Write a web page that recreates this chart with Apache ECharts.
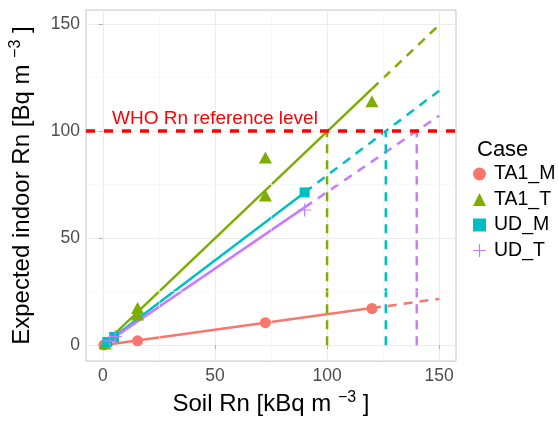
<!DOCTYPE html>
<html>
<head>
<meta charset="utf-8">
<title>Expected indoor Rn</title>
<script src="https://cdn.jsdelivr.net/npm/echarts@6/dist/echarts.min.js"></script>
<style>body{margin:0;background:#fff}#c{width:559px;height:421px}</style>
</head>
<body>
<div id="c"></div>
<script>
// data
var cases = ['TA1_M', 'TA1_T', 'UD_M', 'UD_T'];
var colors = ['#F8766D', '#7CAE00', '#00BFC4', '#C77CFF'];
var ptsTA1M = [[0.5, 0.1], [15.5, 2.0], [72.5, 10.5], [120, 17.1]];
var ptsTA1T = [[1, 0.8], [15.5, 14.3], [15.5, 17.3], [72.5, 69.8], [72.5, 87.6], [120, 113.9]];
var ptsUDM = [[2, 1.5], [5, 3.8], [90, 71.3]];
var ptsUDT = [[3, 2.0], [5.5, 4.0], [90, 63.1]];
// fitted lines: solid over data range, dashed out to 150
var fitStart = [0, 0];
var fitEnd = [[120, 17.3], [120, 119.6], [90, 71.3], [90, 64.3]];
var extEnd = [[150, 21.6], [150, 149.5], [150, 118.8], [150, 107.1]];
var whoLevel = 100;
var whoCross = [100, 126.2, 140]; // TA1_T, UD_M, UD_T reach 100
var majorTicks = [0, 50, 100, 150];
var minorTicks = [25, 75, 125];

var font = 'Liberation Sans';
var plusPath = 'path://M0,4.55H10V5.45H0ZM4.55,0H5.45V10H4.55Z';
var symbols = ['circle', 'triangle', 'rect', plusPath];
var sizes = [11, [13, 12], 10, 13];
var points = [ptsTA1M, ptsTA1T, ptsUDM, ptsUDT];

var chart = echarts.init(document.getElementById('c'));
var series = [];

// minor grid
series.push({
    type: 'line', data: [], silent: true, z: 1,
    markLine: {
        silent: true, symbol: 'none', animation: false,
        label: {show: false},
        lineStyle: {color: '#F3F3F3', width: 0.6, type: 'solid'},
        data: minorTicks.map(function (v) { return {xAxis: v}; })
            .concat(minorTicks.map(function (v) { return {yAxis: v}; }))
    }
});

for (var i = 0; i < 4; i++) {
    series.push({
        type: 'line', symbol: 'none', silent: true, z: 3,
        data: [fitStart, fitEnd[i]],
        lineStyle: {color: colors[i], width: 2.5}
    });
    series.push({
        type: 'line', symbol: 'none', silent: true, z: 3,
        data: [fitEnd[i], extEnd[i]],
        lineStyle: {color: colors[i], width: 2.5, type: [9, 7]}
    });
}
for (var k = 0; k < whoCross.length; k++) {
    series.push({
        type: 'line', symbol: 'none', silent: true, z: 3,
        data: [[whoCross[k], 0], [whoCross[k], whoLevel]],
        lineStyle: {color: colors[k + 1], width: 2.5, type: [9, 7]}
    });
}
series.push({
    type: 'line', data: [], silent: true, z: 4,
    markLine: {
        silent: true, symbol: 'none', animation: false,
        label: {show: false},
        lineStyle: {color: '#FF0000', width: 3.5, type: [9, 9]},
        data: [{yAxis: whoLevel}]
    }
});
for (var j = 0; j < 4; j++) {
    series.push({
        name: cases[j], type: 'scatter', z: 5,
        symbol: symbols[j], symbolSize: sizes[j],
        data: points[j],
        itemStyle: {color: colors[j], opacity: 1}
    });
}

var titleRich = {
    t: {fontFamily: font, fontSize: 24, color: '#000', lineHeight: 26, verticalAlign: 'bottom'},
    sup: {fontFamily: font, fontSize: 16, color: '#000', lineHeight: 16, verticalAlign: 'top'}
};

var option = {
    animation: false,
    textStyle: {fontFamily: font},
    title: [{
        text: 'Case', left: 472, top: 134,
        textStyle: {fontFamily: font, fontSize: 22, fontWeight: 'normal', color: '#000'}
    }, {
        text: 'WHO Rn reference level', left: 107, top: 104,
        textStyle: {fontFamily: font, fontSize: 19, fontWeight: 'normal', color: '#FF0000'}
    }],
    legend: {
        orient: 'vertical', left: 473, top: 164, padding: 0,
        itemWidth: 13, itemHeight: 13, itemGap: 5.5,
        data: cases.map(function (c, n) { return {name: c, icon: symbols[n]}; }),
        textStyle: {fontFamily: font, fontSize: 19.5, color: '#000', lineHeight: 13, padding: [0, 0, 0, 3]}
    },
    grid: {
        left: 86, right: 103, top: 10, bottom: 59,
        show: true, borderColor: '#C4C4C4', borderWidth: 1, backgroundColor: 'rgba(0,0,0,0)'
    },
    xAxis: {
        type: 'value', min: -7.5, max: 157.5,
        name: '{t|Soil Rn [kBq m }{sup|−3}{t| ]}', nameLocation: 'middle', nameGap: 27,
        nameTextStyle: {fontFamily: font, fontSize: 24, color: '#000', rich: titleRich},
        axisLine: {show: false},
        axisTick: {customValues: majorTicks, length: 4, lineStyle: {color: '#B3B3B3'}},
        axisLabel: {customValues: majorTicks, color: '#4D4D4D', fontSize: 17.5, fontFamily: font, margin: 6},
        splitLine: {lineStyle: {color: '#EBEBEB', width: 1}}
    },
    yAxis: {
        type: 'value', min: -7.45, max: 156.45,
        name: '{t|Expected indoor Rn [Bq m }{sup|−3}{t| ]}', nameLocation: 'middle', nameGap: 52, nameRotate: 90,
        nameTextStyle: {fontFamily: font, fontSize: 24, color: '#000', rich: titleRich},
        axisLine: {show: false},
        axisTick: {customValues: majorTicks, length: 4, lineStyle: {color: '#B3B3B3'}},
        axisLabel: {customValues: majorTicks, color: '#4D4D4D', fontSize: 17.5, fontFamily: font, margin: 6},
        splitLine: {lineStyle: {color: '#EBEBEB', width: 1}}
    },
    series: series
};
chart.setOption(option);
</script>
</body>
</html>
